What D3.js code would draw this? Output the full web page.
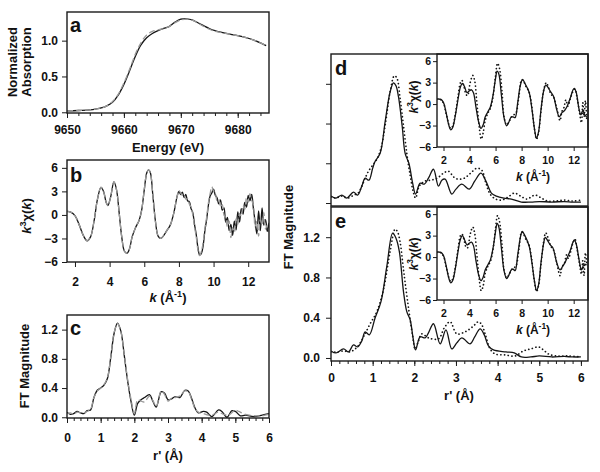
<!DOCTYPE html>
<html><head><meta charset="utf-8">
<script src="https://cdn.jsdelivr.net/npm/d3@7"></script>
<style>
body{margin:0;background:#fff}
text{font-family:"Liberation Sans",Arial,sans-serif;font-weight:bold;fill:#111}
</style>
</head><body>
<svg id="fig" width="600" height="472"></svg>
<script>
// ---------------- DATA ----------------
// (a) XANES: energy (eV), normalized absorption
const xanesData = [[9650,0.02],[9652,0.025],[9654,0.035],[9655,0.045],[9656,0.06],[9657,0.09],[9658,0.14],[9659,0.24],[9660,0.39],[9661,0.58],[9662,0.78],[9663,0.94],[9664,1.04],[9665,1.10],[9666,1.14],[9667,1.17],[9668,1.20],[9669,1.26],[9670,1.30],[9671,1.305],[9672,1.29],[9673,1.25],[9674,1.21],[9675,1.17],[9676,1.14],[9678,1.10],[9680,1.07],[9682,1.03],[9684,0.97],[9685,0.93]];
const xanesFit = [[9650,0.02],[9652,0.025],[9654,0.035],[9655,0.045],[9656,0.06],[9657,0.09],[9658,0.15],[9659,0.25],[9660,0.41],[9661,0.60],[9662,0.81],[9663,0.97],[9664,1.08],[9665,1.13],[9666,1.15],[9667,1.17],[9668,1.20],[9669,1.25],[9670,1.29],[9671,1.30],[9672,1.285],[9673,1.245],[9674,1.20],[9675,1.16],[9676,1.13],[9678,1.10],[9680,1.07],[9682,1.03],[9684,0.97],[9685,0.93]];

// (b) k^3 chi(k): k (1/A), value
const chiB_data = [[1.5,0.45],[1.75,0.35],[2.0,-0.1],[2.25,-1.3],[2.5,-2.7],[2.7,-3.3],[2.9,-2.8],[3.1,-0.8],[3.3,2.0],[3.5,3.5],[3.65,3.0],[3.8,1.6],[3.9,1.2],[4.05,2.2],[4.25,4.2],[4.4,3.2],[4.55,0.3],[4.7,-2.8],[4.85,-4.6],[5.0,-4.9],[5.15,-4.3],[5.3,-2.8],[5.5,-1.6],[5.7,-0.7],[5.85,0.6],[6.0,3.2],[6.15,5.4],[6.25,5.75],[6.35,5.4],[6.5,2.4],[6.65,-0.9],[6.8,-2.7],[6.95,-3.0],[7.1,-2.7],[7.3,-2.0],[7.5,-1.3],[7.7,0.2],[7.9,2.4],[8.0,3.0],[8.1,2.6],[8.2,2.9],[8.3,2.2],[8.4,2.6],[8.5,1.8],[8.6,1.7],[8.7,0.8],[8.8,0.3],[8.9,-1.2],[9.0,-2.5],[9.1,-4.2],[9.2,-5.1],[9.3,-4.9],[9.4,-3.9],[9.5,-2.0],[9.6,-0.6],[9.7,1.2],[9.8,2.4],[9.9,2.8],[10.0,3.3],[10.1,2.5],[10.2,2.2],[10.3,1.4],[10.4,1.9],[10.5,0.6],[10.6,0.9],[10.7,-0.9],[10.8,-0.3],[10.9,-2.0],[11.0,-1.2],[11.1,-2.6],[11.2,-0.8],[11.3,-1.9],[11.4,0.4],[11.5,-0.9],[11.6,0.8],[11.7,0.1],[11.8,1.6],[11.9,1.0],[12.0,2.5],[12.1,1.8],[12.2,2.6],[12.3,0.8],[12.4,-0.9],[12.5,-2.4],[12.6,0.5],[12.7,-2.0],[12.8,0.9],[12.9,-1.3],[13.0,-0.6],[13.1,-2.1],[13.2,-1.0]];
const chiB_fit = [[1.5,0.45],[1.75,0.35],[2.0,-0.1],[2.25,-1.3],[2.5,-2.7],[2.7,-3.3],[2.9,-2.8],[3.1,-0.8],[3.3,2.0],[3.5,3.5],[3.65,3.0],[3.8,1.6],[3.9,1.2],[4.05,2.2],[4.25,4.2],[4.4,3.2],[4.55,0.3],[4.7,-2.8],[4.85,-4.6],[5.0,-4.9],[5.15,-4.3],[5.3,-2.8],[5.5,-1.6],[5.7,-0.7],[5.85,0.6],[6.0,3.2],[6.15,5.4],[6.25,5.75],[6.35,5.4],[6.5,2.4],[6.65,-0.9],[6.8,-2.7],[6.95,-3.0],[7.1,-2.7],[7.3,-2.0],[7.5,-1.3],[7.7,0.2],[7.9,2.4],[8.0,3.1],[8.1,2.8],[8.2,2.5],[8.3,2.6],[8.4,2.0],[8.5,2.1],[8.6,1.4],[8.7,1.0],[8.8,0.0],[8.9,-1.5],[9.0,-2.8],[9.1,-4.5],[9.2,-5.2],[9.3,-4.6],[9.4,-3.5],[9.5,-1.7],[9.6,-0.3],[9.7,1.5],[9.8,2.7],[9.9,3.6],[10.0,3.0],[10.1,2.8],[10.2,1.8],[10.3,2.0],[10.4,1.0],[10.5,1.3],[10.6,0.0],[10.7,-0.4],[10.8,-1.5],[10.9,-0.8],[11.0,-2.9],[11.1,-1.6],[11.2,-2.2],[11.3,-0.5],[11.4,-1.2],[11.5,0.2],[11.6,-0.2],[11.7,1.2],[11.8,0.7],[11.9,2.2],[12.0,1.6],[12.1,2.7],[12.2,1.9],[12.3,1.2],[12.4,-1.5],[12.5,-0.8],[12.6,-2.7],[12.7,-0.6],[12.8,-1.3],[12.9,0.3],[13.0,-1.8],[13.1,-1.3],[13.2,-2.2]];

// (c) FT magnitude: r' (A), value
const ftC_data = [[0,0.07],[0.1,0.04],[0.2,0.05],[0.3,0.08],[0.4,0.06],[0.5,0.05],[0.6,0.09],[0.7,0.10],[0.8,0.27],[0.9,0.37],[1.0,0.40],[1.1,0.44],[1.2,0.53],[1.3,0.82],[1.4,1.15],[1.5,1.29],[1.6,1.18],[1.7,0.85],[1.8,0.50],[1.9,0.22],[2.0,0.03],[2.1,0.19],[2.2,0.24],[2.3,0.27],[2.45,0.31],[2.55,0.22],[2.65,0.14],[2.8,0.35],[2.9,0.33],[3.0,0.24],[3.1,0.25],[3.2,0.28],[3.35,0.27],[3.5,0.37],[3.6,0.36],[3.7,0.26],[3.8,0.13],[3.9,0.06],[4.05,0.08],[4.15,0.07],[4.3,0.01],[4.5,0.10],[4.6,0.08],[4.75,0.0],[4.9,0.09],[5.0,0.08],[5.15,0.02],[5.3,0.03],[5.55,0.01],[5.8,0.03],[6.0,0.05]];
const ftC_fit = [[0,0.05],[0.1,0.06],[0.2,0.04],[0.3,0.07],[0.4,0.06],[0.5,0.06],[0.6,0.08],[0.7,0.11],[0.8,0.27],[0.9,0.36],[1.0,0.40],[1.1,0.45],[1.2,0.54],[1.3,0.83],[1.4,1.16],[1.5,1.28],[1.6,1.17],[1.7,0.86],[1.8,0.52],[1.9,0.25],[2.0,0.05],[2.1,0.24],[2.2,0.22],[2.3,0.21],[2.45,0.29],[2.55,0.23],[2.65,0.15],[2.8,0.36],[2.9,0.31],[3.0,0.22],[3.1,0.26],[3.2,0.27],[3.35,0.29],[3.5,0.36],[3.6,0.35],[3.7,0.25],[3.8,0.12],[3.9,0.07],[4.05,0.05],[4.2,0.03],[4.35,0.04],[4.5,0.07],[4.65,0.04],[4.8,0.03],[5.0,0.10],[5.1,0.08],[5.3,0.04],[5.6,0.02],[5.8,0.02],[6.0,0.04]];

// (d) FT magnitude, data (solid) and fit (dotted)
const ftD_data = [[0,0.07],[0.12,0.05],[0.26,0.08],[0.38,0.05],[0.54,0.11],[0.64,0.08],[0.74,0.17],[0.82,0.25],[0.91,0.23],[1.0,0.35],[1.06,0.42],[1.18,0.50],[1.3,0.82],[1.42,1.12],[1.5,1.21],[1.56,1.18],[1.62,1.07],[1.71,0.77],[1.78,0.50],[1.87,0.40],[1.96,0.20],[2.03,0.09],[2.14,0.20],[2.24,0.19],[2.34,0.25],[2.46,0.34],[2.58,0.17],[2.66,0.23],[2.74,0.24],[2.9,0.09],[3.0,0.14],[3.14,0.19],[3.32,0.14],[3.45,0.22],[3.6,0.30],[3.73,0.21],[3.85,0.10],[3.97,0.07],[4.15,0.05],[4.33,0.04],[4.57,0.01],[4.8,0.01],[5.0,0.015],[5.3,0.01],[5.6,0.015],[5.8,0.01],[6.0,0.01]];
const ftD_fit = [[0,0.06],[0.12,0.05],[0.25,0.07],[0.4,0.05],[0.55,0.08],[0.65,0.10],[0.74,0.17],[0.82,0.25],[0.9,0.32],[1.0,0.38],[1.1,0.44],[1.2,0.55],[1.3,0.78],[1.42,1.12],[1.52,1.28],[1.58,1.26],[1.66,1.05],[1.74,0.78],[1.82,0.50],[1.9,0.28],[1.97,0.12],[2.03,0.05],[2.12,0.17],[2.25,0.22],[2.4,0.23],[2.55,0.25],[2.7,0.30],[2.82,0.32],[2.95,0.26],[3.05,0.24],[3.2,0.25],[3.35,0.30],[3.5,0.35],[3.62,0.33],[3.72,0.20],[3.82,0.09],[3.95,0.04],[4.1,0.03],[4.25,0.06],[4.4,0.10],[4.55,0.07],[4.7,0.04],[4.9,0.08],[5.05,0.05],[5.2,0.02],[5.4,0.02],[5.6,0.03],[5.8,0.02],[6.0,0.03]];

// (e) FT magnitude, data (solid) and fit (dotted)
const ftE_data = [[0,0.07],[0.12,0.05],[0.3,0.09],[0.42,0.06],[0.54,0.13],[0.64,0.11],[0.74,0.17],[0.82,0.26],[0.92,0.23],[1.06,0.40],[1.2,0.56],[1.34,0.91],[1.48,1.24],[1.56,1.19],[1.64,1.06],[1.74,0.66],[1.82,0.46],[1.9,0.38],[1.97,0.20],[2.03,0.08],[2.14,0.21],[2.26,0.20],[2.34,0.25],[2.46,0.34],[2.62,0.14],[2.76,0.28],[2.9,0.09],[3.02,0.15],[3.14,0.20],[3.34,0.14],[3.45,0.21],[3.58,0.29],[3.68,0.23],[3.78,0.12],[3.9,0.08],[4.2,0.06],[4.4,0.05],[4.57,0.01],[4.8,0.01],[5.0,0.02],[5.3,0.01],[5.6,0.015],[5.8,0.01],[6.0,0.01]];
const ftE_fit = [[0,0.06],[0.15,0.06],[0.3,0.07],[0.45,0.06],[0.55,0.08],[0.65,0.12],[0.78,0.21],[0.94,0.34],[1.1,0.46],[1.26,0.68],[1.42,1.06],[1.54,1.28],[1.6,1.25],[1.66,1.15],[1.74,0.88],[1.84,0.56],[1.96,0.22],[2.02,0.09],[2.1,0.17],[2.18,0.24],[2.34,0.20],[2.58,0.19],[2.72,0.30],[2.86,0.36],[3.02,0.24],[3.22,0.26],[3.4,0.31],[3.54,0.36],[3.62,0.33],[3.7,0.24],[3.82,0.09],[3.94,0.04],[4.18,0.03],[4.42,0.02],[4.62,0.07],[4.8,0.09],[4.98,0.11],[5.1,0.08],[5.22,0.04],[5.4,0.02],[5.7,0.02],[6.0,0.01]];

// insets (d) and (e): k^3 chi(k), data (solid) and fit (dotted)
const chiD_data = [[1.5,0.7],[1.8,0.65],[2.0,0.2],[2.2,-1.2],[2.4,-2.9],[2.55,-3.6],[2.7,-3.3],[2.9,-1.7],[3.1,0.5],[3.3,2.4],[3.45,2.9],[3.6,2.5],[3.8,1.6],[3.95,1.8],[4.15,2.0],[4.3,1.6],[4.5,-0.5],[4.7,-2.5],[4.88,-3.4],[5.05,-2.9],[5.2,-1.8],[5.4,-1.1],[5.6,-0.4],[5.8,1.2],[6.0,3.6],[6.12,4.6],[6.25,4.2],[6.45,1.2],[6.65,-1.9],[6.85,-3.05],[7.0,-2.6],[7.2,-1.8],[7.35,-1.8],[7.5,-1.9],[7.7,0.2],[7.9,2.6],[8.08,3.45],[8.25,2.9],[8.45,2.2],[8.6,1.5],[8.8,-0.8],[9.0,-3.6],[9.14,-4.8],[9.3,-3.9],[9.5,-0.6],[9.7,1.9],[9.85,2.65],[10.0,2.4],[10.2,1.8],[10.45,1.1],[10.7,-0.8],[10.9,-1.8],[11.1,-1.2],[11.3,-0.9],[11.5,-0.3],[11.75,0.9],[11.95,2.0],[12.05,2.2],[12.2,1.6],[12.4,-0.6],[12.55,-1.5],[12.7,-0.9],[12.85,-1.5],[13.0,-1.8]];
const chiD_fit = [[1.5,0.7],[1.8,0.6],[2.0,0.1],[2.2,-1.3],[2.4,-2.8],[2.55,-3.4],[2.7,-3.1],[2.9,-1.5],[3.1,0.9],[3.3,3.0],[3.42,3.3],[3.55,2.6],[3.75,1.3],[3.85,1.2],[4.05,3.0],[4.25,4.0],[4.4,3.2],[4.55,0.5],[4.75,-3.3],[4.9,-4.9],[5.05,-4.0],[5.2,-2.3],[5.4,-1.3],[5.6,-0.6],[5.8,1.0],[6.0,4.0],[6.15,5.7],[6.3,5.0],[6.5,1.6],[6.65,-1.8],[6.85,-2.9],[7.05,-2.4],[7.3,-1.6],[7.55,-1.3],[7.8,1.2],[8.0,3.4],[8.15,3.2],[8.35,2.4],[8.55,1.8],[8.75,0.1],[8.95,-3.0],[9.15,-4.9],[9.3,-4.0],[9.5,-0.8],[9.7,2.0],[9.9,3.0],[10.05,2.4],[10.25,1.4],[10.45,1.0],[10.7,-0.6],[10.95,-2.3],[11.1,-1.0],[11.25,-0.5],[11.4,0.6],[11.55,-0.3],[11.75,0.8],[11.95,1.8],[12.1,2.1],[12.25,1.0],[12.45,-1.2],[12.6,-2.6],[12.7,0.2],[12.8,-1.8],[12.9,0.5],[13.0,-2.2]];
const chiE_data = [[1.5,0.7],[1.8,0.65],[2.0,0.2],[2.2,-1.2],[2.4,-2.9],[2.55,-3.6],[2.7,-3.3],[2.9,-1.7],[3.1,0.6],[3.3,2.5],[3.45,3.0],[3.6,2.5],[3.8,1.7],[3.95,1.9],[4.15,2.1],[4.3,1.6],[4.5,-0.6],[4.7,-2.5],[4.88,-3.3],[5.05,-2.8],[5.2,-1.8],[5.4,-1.1],[5.6,-0.4],[5.8,1.2],[6.0,3.6],[6.12,4.7],[6.25,4.2],[6.45,1.2],[6.65,-1.9],[6.85,-3.0],[7.0,-2.6],[7.2,-1.8],[7.35,-1.7],[7.5,-1.9],[7.7,0.3],[7.9,2.7],[8.05,3.6],[8.25,3.0],[8.45,2.2],[8.6,1.4],[8.8,-0.9],[9.0,-3.5],[9.15,-4.7],[9.3,-3.9],[9.5,-0.6],[9.7,2.0],[9.82,2.75],[10.0,2.3],[10.2,1.7],[10.4,1.3],[10.7,-0.8],[10.95,-1.8],[11.15,-1.3],[11.35,-0.7],[11.55,0.1],[11.75,1.0],[11.95,2.1],[12.05,2.4],[12.2,1.8],[12.4,-0.2],[12.6,-1.8],[12.8,-1.0],[13.0,-1.1]];
const chiE_fit = [[1.5,0.7],[1.8,0.6],[2.0,0.1],[2.2,-1.3],[2.4,-2.8],[2.55,-3.4],[2.7,-3.1],[2.9,-1.5],[3.1,0.9],[3.3,3.0],[3.42,3.2],[3.55,2.6],[3.75,1.3],[3.85,1.3],[4.05,3.2],[4.25,4.2],[4.4,3.3],[4.55,0.6],[4.75,-3.2],[4.9,-4.7],[5.05,-4.0],[5.2,-2.3],[5.4,-1.3],[5.6,-0.6],[5.8,1.0],[6.0,4.1],[6.15,5.8],[6.3,5.0],[6.5,1.6],[6.65,-1.8],[6.85,-2.9],[7.05,-2.4],[7.3,-1.6],[7.55,-1.3],[7.8,1.2],[8.0,3.5],[8.15,3.2],[8.35,2.4],[8.55,1.8],[8.75,0.0],[8.95,-3.0],[9.15,-4.8],[9.3,-4.0],[9.5,-0.8],[9.7,2.2],[9.85,3.4],[10.05,2.6],[10.25,1.5],[10.45,1.0],[10.7,-0.8],[10.95,-2.6],[11.1,-1.4],[11.3,-0.8],[11.45,0.3],[11.6,-0.2],[11.8,1.0],[11.95,2.0],[12.1,2.5],[12.25,1.2],[12.45,-1.0],[12.6,-2.4],[12.7,-0.5],[12.8,-2.6],[12.9,0.6],[13.0,-0.8]];

// tick labels
const xanesXTicks = [9650,9660,9670,9680];
const xanesYTicks = [0.0,0.5,1.0];
const chiXTicks = [2,4,6,8,10,12];
const chiYTicks = [-6,-3,0,3,6];
const ftXTicks = [0,1,2,3,4,5,6];
const ftYTicks = [0.0,0.4,0.8,1.2];

// ---------------- DRAWING ----------------
const svg = d3.select("#fig");
const defs = svg.append("defs");
let clipId = 0;

const STY = {
  data:  {stroke:"#151515", width:1.3, dash:null},
  fit:   {stroke:"#9a9a9a", width:1.3, dash:"6,3"},
  dot:   {stroke:"#151515", width:1.7, dash:"0.1,3.6", cap:"round"}
};

function makeScales(box, xd, yd){
  return {x:d3.scaleLinear().domain(xd).range([box.x0,box.x1]),
          y:d3.scaleLinear().domain(yd).range([box.y1,box.y0])};
}

function drawLines(g, box, sc, series){
  const id = "clip"+(clipId++);
  defs.append("clipPath").attr("id",id).append("rect")
    .attr("x",box.x0).attr("y",box.y0).attr("width",box.x1-box.x0).attr("height",box.y1-box.y0);
  const lg = g.append("g").attr("clip-path",`url(#${id})`);
  const line = d3.line().x(d=>sc.x(d[0])).y(d=>sc.y(d[1])).curve(d3.curveCatmullRom.alpha(0.5));
  series.forEach(s=>{
    const st = STY[s.style];
    lg.append("path").attr("d",line(s.data)).attr("fill","none")
      .attr("stroke",st.stroke).attr("stroke-width",st.width)
      .attr("stroke-dasharray",st.dash).attr("stroke-linecap",st.cap||"butt")
      .attr("stroke-linejoin","round");
  });
}

function frame(g, box){
  g.append("rect").attr("x",box.x0).attr("y",box.y0)
    .attr("width",box.x1-box.x0).attr("height",box.y1-box.y0)
    .attr("fill","none").attr("stroke","#1a1a1a").attr("stroke-width",1.4);
}

function styleAxis(a, fs){
  a.select(".domain").remove();
  a.selectAll(".tick line").attr("stroke","#1a1a1a").attr("stroke-width",1);
  a.selectAll(".tick text").attr("font-size",fs).attr("font-family",null).attr("fill","#111");
}

function xAxis(g, box, sc, ticks, fmt, opts){
  if(opts.minor){
    const a0 = g.append("g").attr("transform",`translate(0,${box.y1})`)
      .call(d3.axisBottom(sc.x).tickValues(opts.minor).tickSize(3).tickFormat(""));
    styleAxis(a0, opts.fs);
  }
  const a = g.append("g").attr("transform",`translate(0,${box.y1})`)
    .call(d3.axisBottom(sc.x).tickValues(ticks).tickSize(opts.tick||5).tickPadding(opts.pad||6).tickFormat(opts.labels===false?"":fmt));
  styleAxis(a, opts.fs);
}
function yAxis(g, box, sc, ticks, fmt, opts){
  const a = g.append("g").attr("transform",`translate(${box.x0},0)`)
    .call(d3.axisLeft(sc.y).tickValues(ticks).tickSize(opts.tick||5).tickPadding(opts.pad||4).tickFormat(opts.labels===false?"":fmt));
  styleAxis(a, opts.fs);
}

function label(x,y,txt,size,anchor){
  svg.append("text").attr("x",x).attr("y",y).attr("font-size",size)
    .attr("text-anchor",anchor||"start").text(txt);
}
function vlabel(x,y,txt,size){
  svg.append("text").attr("transform",`translate(${x},${y}) rotate(-90)`)
    .attr("font-size",size).attr("text-anchor","middle").text(txt);
}
function chiLabel(x,y,size,rot){
  const t = svg.append("text").attr("font-size",size).attr("text-anchor","middle")
    .attr("transform", rot?`translate(${x},${y}) rotate(-90)`:`translate(${x},${y})`);
  t.append("tspan").attr("font-style","italic").text("k");
  t.append("tspan").attr("font-size",size*0.7).attr("dy",-size*0.4).text("3");
  t.append("tspan").attr("dy",size*0.4).text("χ(");
  t.append("tspan").attr("font-style","italic").text("k");
  t.append("tspan").text(")");
}
function kTitle(x,y,size){
  const t = svg.append("text").attr("x",x).attr("y",y).attr("font-size",size).attr("text-anchor","middle");
  t.append("tspan").attr("font-style","italic").text("k");
  t.append("tspan").text(" (Å");
  t.append("tspan").attr("font-size",size*0.7).attr("dy",-size*0.4).text("-1");
  t.append("tspan").attr("dy",size*0.4).text(")");
}

const f1 = d3.format(".1f"), f0 = d3.format("d");
const range = (a,b,s)=>d3.range(Math.round((b-a)/s)+1).map(i=>+(a+i*s).toFixed(4));

// ---- Panel a ----
{
  const box={x0:67,x1:269,y0:12,y1:113};
  const sc=makeScales(box,[9650,9685.5],[-0.01,1.4]);
  const g=svg.append("g");
  drawLines(g,box,sc,[{data:xanesData,style:"data"},{data:xanesFit,style:"fit"}]);
  xAxis(g,box,sc,xanesXTicks,f0,{fs:12,pad:7,minor:range(9650,9684,2)});
  yAxis(g,box,sc,xanesYTicks,f1,{fs:12,pad:4});
  frame(g,box);
  label(70,32,"a",20);
  label(168,152,"Energy (eV)",13,"middle");
  vlabel(17,62,"Normalized",13);
  vlabel(31,62,"Absorption",13);
}
// ---- Panel b ----
{
  const box={x0:67,x1:269,y0:160,y1:262};
  const sc=makeScales(box,[1.54,13.2],[-6,7]);
  const g=svg.append("g");
  drawLines(g,box,sc,[{data:chiB_data,style:"data"},{data:chiB_fit,style:"fit"}]);
  xAxis(g,box,sc,chiXTicks,f0,{fs:12,pad:10});
  yAxis(g,box,sc,chiYTicks,f0,{fs:12,pad:4});
  frame(g,box);
  label(70,182,"b",20);
  kTitle(168,302,13);
  chiLabel(31,216,13,true);
}
// ---- Panel c ----
{
  const box={x0:67,x1:269,y0:315,y1:418};
  const sc=makeScales(box,[0,6],[-0.01,1.4]);
  const g=svg.append("g");
  drawLines(g,box,sc,[{data:ftC_data,style:"data"},{data:ftC_fit,style:"fit"}]);
  xAxis(g,box,sc,ftXTicks,f0,{fs:12,pad:10,minor:range(0,6,0.2)});
  yAxis(g,box,sc,ftYTicks,f1,{fs:12,pad:4});
  frame(g,box);
  label(70,335,"c",20);
  label(168,460,"r' (Å)",13,"middle");
  vlabel(29,366,"FT Magnitude",13);
}
// ---- Panels d and e ----
function ftPanel(box, ftData, ftFit, ibox, cData, cFit, letter, letterY, showLabels){
  const sc=makeScales(box,[0,6.17],[-0.03,1.5]);
  const g=svg.append("g");
  drawLines(g,box,sc,[{data:ftData,style:"data"},{data:ftFit,style:"dot"}]);
  if(showLabels){
    xAxis(g,box,sc,ftXTicks,f0,{fs:12,pad:7,minor:range(0,6,0.2)});
  }
  yAxis(g,box,sc,ftYTicks,f1,{fs:12,pad:6,labels:showLabels});
  // inset
  const isc=makeScales(ibox,[1.5,13.1],[-6,7]);
  g.append("rect").attr("x",ibox.x0).attr("y",ibox.y0).attr("width",ibox.x1-ibox.x0)
    .attr("height",ibox.y1-ibox.y0).attr("fill","#fff");
  drawLines(g,ibox,isc,[{data:cData,style:"data"},{data:cFit,style:"dot"}]);
  xAxis(g,ibox,isc,chiXTicks,f0,{fs:10.5,tick:4,pad:6});
  yAxis(g,ibox,isc,chiYTicks,f0,{fs:10.5,tick:4,pad:2});
  frame(g,ibox);
  frame(g,box);
  label(335,letterY,letter,20);
}
ftPanel({x0:331,x1:588,y0:54,y1:206},ftD_data,ftD_fit,{x0:437,x1:588,y0:54,y1:147},chiD_data,chiD_fit,"d",75,false);
ftPanel({x0:331,x1:588,y0:207,y1:361},ftE_data,ftE_fit,{x0:437,x1:588,y0:207,y1:300},chiE_data,chiE_fit,"e",228,true);
chiLabel(418,97,12,true);
chiLabel(418,254,12,true);
kTitle(533,181,12);
kTitle(533,334,12);
label(459,400,"r' (Å)",13,"middle");
vlabel(293,227,"FT Magnitude",13);
</script>
</body></html>
